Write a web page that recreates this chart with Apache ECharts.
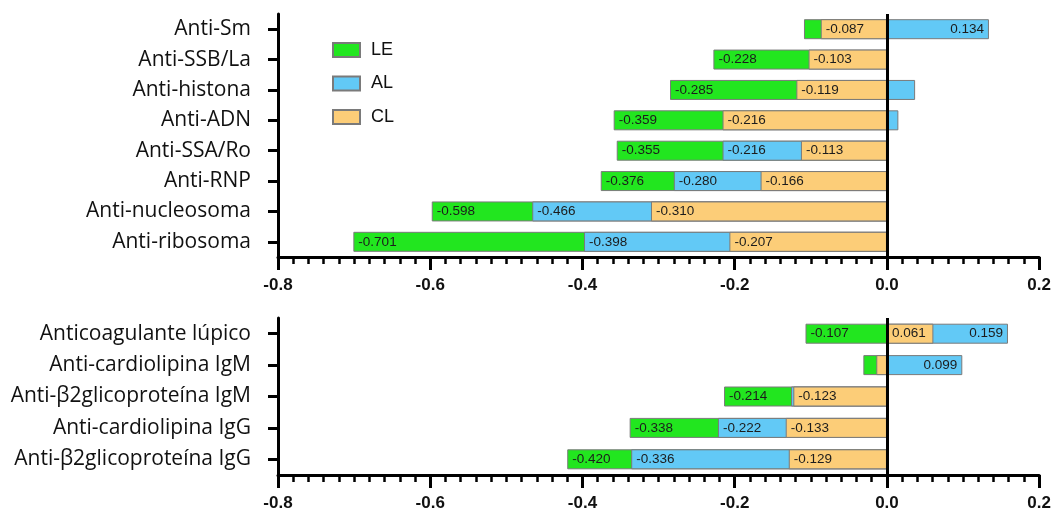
<!DOCTYPE html>
<html>
<head>
<meta charset="utf-8">
<script src="https://cdn.jsdelivr.net/npm/echarts@6/dist/echarts.min.js"></script>
<style>html,body{margin:0;padding:0;background:#fff}#c{width:1054px;height:512px}</style>
</head>
<body>
<div id="c"></div>
<script>
// ---- data ----
const catsTop = ['Anti-Sm','Anti-SSB/La','Anti-histona','Anti-ADN','Anti-SSA/Ro','Anti-RNP','Anti-nucleosoma','Anti-ribosoma'];
const leTop = [-0.109,-0.228,-0.285,-0.359,-0.355,-0.376,-0.598,-0.701];
const alTop = [0.134,null,0.037,0.015,-0.216,-0.280,-0.466,-0.398];
const clTop = [-0.087,-0.103,-0.119,-0.216,-0.113,-0.166,-0.310,-0.207];
const catsBot = ['Anticoagulante lúpico','Anti-cardiolipina IgM','Anti-β2glicoproteína IgM','Anti-cardiolipina IgG','Anti-β2glicoproteína IgG'];
const leBot = [-0.107,-0.031,-0.214,-0.338,-0.420];
const alBot = [0.159,0.099,-0.126,-0.222,-0.336];
const clBot = [0.061,-0.014,-0.123,-0.133,-0.129];
// values shown without a printed label in the original
const noLabel = {leTop:[0], alTop:[2,3], clTop:[], leBot:[1], alBot:[2], clBot:[1]};
const xTicks = [-0.8,-0.6,-0.4,-0.2,0.0,0.2];

const COLORS = {LE:'#22e61f', AL:'#62c9f6', CL:'#fccd78'};

function items(vals, hidden, posPositive){
  return vals.map((v,i)=>{
    if (v===null) return null;
    const o = {value:v};
    if (hidden.indexOf(i)>=0) o.label = {show:false};
    else o.label = {position: v<0 ? 'insideLeft' : posPositive};
    return o;
  });
}

const labelBase = {show:true, fontFamily:'Liberation Sans, Arial', fontSize:13.5, color:'#1c1c1c', distance:5,
  formatter: p => p.value.toFixed(3)};

function series(name, vals, hidden, gi, posPositive, withZero){
  const s = {
    name, type:'bar', xAxisIndex:gi, yAxisIndex:gi, barWidth:20, barGap:'-100%',
    itemStyle:{color:COLORS[name], borderColor:'#7a7a7a', borderWidth:1},
    label: labelBase, data: items(vals, hidden, posPositive), animation:false
  };
  if (withZero){
    s.markLine = {silent:true, symbol:'none', label:{show:false},
      lineStyle:{color:'#000', width:3, type:'solid'}, data:[{xAxis:0}], z:10};
  }
  return s;
}

function xAxis(gi){
  return {gridIndex:gi, type:'value', min:-0.8, max:0.2, interval:0.2,
    axisLine:{show:true, onZero:false, lineStyle:{color:'#000', width:3}},
    axisTick:{show:true, length:13, lineStyle:{color:'#000', width:3}},
    minorTick:{show:true, splitNumber:10, length:7, lineStyle:{color:'#000', width:2.5}},
    splitLine:{show:false},
    axisLabel:{margin:20, fontFamily:'Liberation Sans, Arial', fontWeight:'bold', fontSize:17, color:'#111',
      formatter: v => { const t = xTicks.find(x=>Math.abs(x-v)<1e-9); return (t===undefined?v:t).toFixed(1);} }
  };
}
function yAxis(gi, cats){
  return {gridIndex:gi, type:'category', data:cats, inverse:true,
    axisLine:{show:true, onZero:false, lineStyle:{color:'#000', width:3}},
    axisTick:{show:true, alignWithLabel:true, length:10, lineStyle:{color:'#000', width:3}},
    axisLabel:{margin:27, fontFamily:'Open Sans', fontSize:21, color:'#111'}
  };
}

const chart = echarts.init(document.getElementById('c'), null, {renderer:'canvas'});
chart.setOption({
  backgroundColor:'#fff',
  animation:false,
  legend:{data:['LE','AL','CL'], orient:'vertical', left:327, top:36, itemWidth:27, itemHeight:14, itemGap:15.5,
    icon:'rect',
    textStyle:{fontFamily:'Liberation Sans, Arial', fontSize:18, color:'#111', lineHeight:14, padding:[0,0,0,6]},
    selectedMode:false},
  grid:[
    {left:278, right:13, top:14, height:243},
    {left:278, right:13, top:318, height:160}
  ],
  xAxis:[xAxis(0), xAxis(1)],
  yAxis:[yAxis(0, catsTop), yAxis(1, catsBot)],
  series:[
    series('LE', leTop, noLabel.leTop, 0, 'insideRight', true),
    series('AL', alTop, noLabel.alTop, 0, 'insideRight'),
    series('CL', clTop, noLabel.clTop, 0, 'insideLeft'),
    series('LE', leBot, noLabel.leBot, 1, 'insideRight', true),
    series('AL', alBot, noLabel.alBot, 1, 'insideRight'),
    series('CL', clBot, noLabel.clBot, 1, 'insideLeft')
  ]
});
</script>
</body>
</html>
